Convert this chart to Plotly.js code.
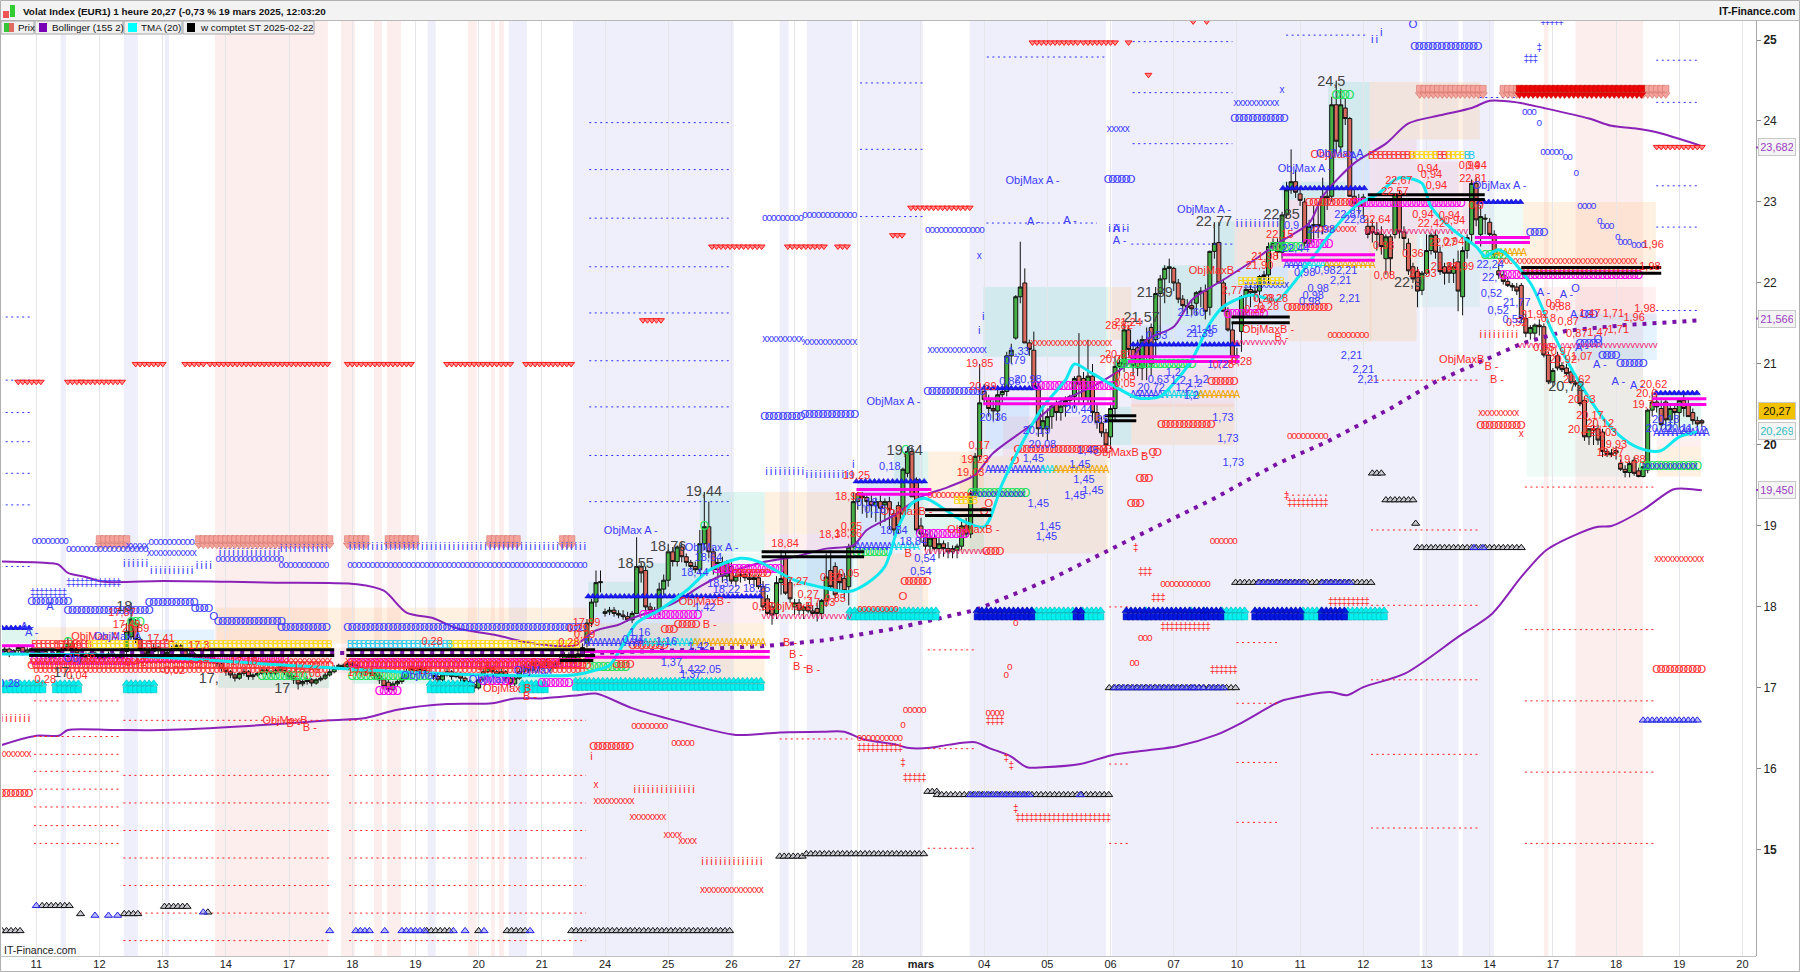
<!DOCTYPE html>
<html><head><meta charset="utf-8"><script src="https://cdn.plot.ly/plotly-3.0.1.min.js"></script>
<style>html,body{margin:0;padding:0;background:#fff}#c{width:1800px;height:972px}</style></head>
<body><div id="c"></div><script>
const firstHour=-8;
const opens=[17.42,17.45,17.48,17.42,17.46,17.5,17.44,17.47,
17.45,17.42,17.45,17.4,17.38,17.42,17.46,17.5,17.55,17.48,17.42,17.38,17.4,17.43,
17.4,17.36,17.38,17.42,17.4,17.37,17.45,17.63,17.8,17.6,17.48,17.42,17.45,17.5,
17.46,17.42,17.44,17.48,17.52,17.46,17.4,17.42,17.38,17.36,17.4,17.38,17.34,17.3,
17.24,17.2,17.16,17.12,17.18,17.2,17.14,17.16,17.18,17.22,17.2,17.18,17.22,17.26,
17.2,17.14,17.1,17.05,17.08,17.1,17.06,17.1,17.12,17.16,17.2,17.24,17.28,17.26,
17.3,17.28,17.25,17.2,17.22,17.18,17.15,17.1,17.07,16.98,17.05,17.08,17.12,17.2,
17.24,17.2,17.24,17.2,17.18,17.14,17.1,17.16,17.2,17.14,17.18,17.12,17.08,17.04,
17.0,17.1,17.2,17.25,17.2,17.16,17.2,17.12,17.05,17.12,17.2,17.26,17.22,17.3,
17.25,17.28,17.32,17.25,17.3,17.34,17.4,17.38,17.34,17.42,17.55,17.8,18.06,18.3,
17.92,17.94,17.96,17.92,17.9,17.88,17.84,17.92,18.5,18.45,18.0,17.96,17.95,18.22,
18.33,18.68,18.56,18.74,18.62,18.55,18.5,18.46,18.78,18.99,18.68,18.46,18.55,18.38,
18.5,18.32,18.38,18.4,18.36,18.34,18.36,18.25,18.1,18.0,17.92,18.3,18.62,18.3,
18.0,18.05,17.96,18.0,17.95,17.98,17.92,18.08,18.45,18.5,18.4,18.35,18.25,18.74,
19.3,19.38,19.35,19.3,19.25,19.3,19.26,19.3,19.15,19.25,19.15,19.65,19.92,19.57,
19.0,18.9,18.75,18.85,18.72,18.78,18.72,18.68,18.7,18.75,19.0,18.9,19.4,19.86,
20.66,20.56,20.45,20.42,20.62,20.66,21.1,21.32,21.83,22.0,21.26,21.17,20.72,20.2,
20.2,20.35,20.5,20.4,20.48,20.55,20.6,20.85,20.82,20.56,20.85,20.4,20.27,20.15,
20.1,20.45,20.97,21.0,21.42,21.18,21.2,20.95,21.3,21.45,21.3,21.87,22.05,22.18,
22.18,22.0,21.8,21.72,21.72,21.75,21.88,21.9,21.7,22.39,22.5,22.0,21.65,21.42,
21.09,21.4,21.83,21.92,21.88,21.9,22.08,22.1,22.45,22.5,22.38,22.84,23.15,23.25,
23.1,23.0,22.49,22.7,22.72,22.7,23.07,23.07,24.2,23.68,24.16,24.03,23.07,22.98,
23.06,22.7,22.7,22.62,22.6,22.3,22.57,22.6,23.09,22.63,22.49,22.2,22.14,21.91,
22.12,22.4,22.59,22.38,22.2,22.2,22.12,22.26,21.83,22.4,22.6,23.23,22.6,22.8,
22.75,22.6,22.15,22.1,22.02,21.97,21.95,21.97,21.56,21.38,21.38,21.48,21.46,21.11,
20.78,21.1,20.98,20.95,20.9,20.77,20.74,20.55,20.1,20.2,20.2,20.16,19.92,19.88,
19.9,19.77,19.7,19.66,19.81,19.68,19.61,19.69,20.43,20.53,20.45,20.53,20.31,20.45,
20.4,20.55,20.5,20.4,20.3,20.3];
const highs=[17.5,17.52,17.5,17.48,17.54,17.52,17.5,17.5,
17.48,17.48,17.47,17.42,17.44,17.5,17.54,17.62,17.58,17.5,17.44,17.44,17.46,17.45,
17.42,17.42,17.45,17.45,17.42,17.5,17.8,18.05,17.85,17.62,17.5,17.5,17.54,17.52,
17.48,17.48,17.52,17.56,17.54,17.48,17.46,17.44,17.4,17.44,17.42,17.4,17.36,17.32,
17.26,17.22,17.18,17.2,17.24,17.22,17.18,17.2,17.26,17.24,17.22,17.25,17.3,17.28,
17.22,17.16,17.12,17.1,17.13,17.12,17.12,17.15,17.2,17.24,17.28,17.3,17.3,17.34,
17.32,17.3,17.26,17.25,17.24,17.2,17.18,17.12,17.1,17.08,17.1,17.15,17.24,17.28,
17.26,17.28,17.26,17.22,17.2,17.16,17.2,17.24,17.22,17.2,17.2,17.14,17.1,17.06,
17.14,17.24,17.3,17.28,17.22,17.24,17.22,17.14,17.16,17.24,17.3,17.3,17.34,17.32,
17.32,17.36,17.34,17.34,17.38,17.44,17.44,17.42,17.46,17.55,17.85,18.1,18.45,18.45,
17.98,18.0,18.0,17.96,17.96,17.94,17.95,18.86,18.55,18.5,18.05,18.0,18.3,18.4,
18.78,18.74,18.76,18.8,18.66,18.58,18.56,18.95,19.42,19.3,18.72,18.6,18.62,18.58,
18.55,18.42,18.45,18.44,18.42,18.4,18.4,18.32,18.15,18.05,18.38,18.7,18.68,18.35,
18.1,18.1,18.02,18.05,18.02,18.05,18.1,18.66,18.7,18.55,18.45,18.42,18.78,19.42,
19.42,19.42,19.4,19.4,19.35,19.38,19.34,19.36,19.2,19.3,19.72,19.98,19.98,19.6,
19.1,18.95,18.95,18.9,18.85,18.82,18.8,18.76,18.78,19.05,19.1,19.44,19.9,21.0,
20.75,20.62,20.55,20.68,20.7,21.15,21.25,21.85,22.51,22.18,21.3,21.4,20.78,20.45,
20.45,20.5,20.55,20.55,20.6,20.62,20.85,21.38,20.9,21.3,21.0,20.5,20.35,20.2,
20.5,21.1,21.1,21.5,21.48,21.25,21.3,21.35,21.45,21.5,21.95,22.1,22.22,22.3,
22.2,22.05,21.85,21.8,21.78,21.9,21.95,21.98,22.4,22.75,22.75,22.05,21.7,21.5,
21.2,21.85,21.95,21.98,21.95,22.1,22.15,22.5,22.55,22.55,22.88,23.25,23.65,23.4,
23.2,23.05,22.78,22.95,23.0,23.3,23.2,24.3,24.5,24.4,24.28,24.05,23.15,23.1,
23.1,22.8,22.78,22.75,22.7,22.6,22.6,23.1,23.15,22.7,22.55,22.25,22.2,22.15,
22.6,22.62,22.65,22.45,22.25,22.25,22.3,22.4,22.45,22.6,23.28,23.3,22.95,22.85,
22.8,22.65,22.24,22.15,22.08,22.0,22.0,22.0,21.62,21.48,21.5,21.55,21.5,21.15,
20.95,21.15,21.02,21.0,20.92,20.8,20.78,20.6,20.2,20.3,20.25,20.2,19.95,19.95,
19.98,19.82,19.75,19.8,19.85,19.72,19.8,20.45,20.65,20.68,20.55,20.58,20.5,20.5,
20.55,20.65,20.58,20.45,20.35,20.32];
const lows=[17.38,17.42,17.38,17.4,17.42,17.4,17.42,17.42,
17.38,17.4,17.36,17.34,17.36,17.4,17.42,17.48,17.44,17.38,17.34,17.35,17.38,17.36,
17.32,17.33,17.36,17.36,17.33,17.35,17.42,17.6,17.55,17.44,17.38,17.4,17.42,17.42,
17.38,17.4,17.42,17.46,17.42,17.36,17.37,17.34,17.32,17.34,17.33,17.3,17.26,17.2,
17.15,17.12,17.08,17.1,17.15,17.1,17.1,17.14,17.16,17.16,17.14,17.16,17.2,17.16,
17.1,17.05,16.98,17.02,17.04,17.02,17.04,17.08,17.1,17.14,17.18,17.22,17.22,17.24,
17.24,17.2,17.16,17.16,17.14,17.1,17.05,16.98,16.95,16.96,17.02,17.05,17.1,17.18,
17.16,17.18,17.16,17.14,17.1,17.05,17.08,17.14,17.1,17.12,17.08,17.04,17.0,16.95,
16.98,17.08,17.18,17.16,17.12,17.14,17.08,17.0,17.02,17.1,17.16,17.18,17.2,17.2,
17.22,17.24,17.2,17.24,17.28,17.32,17.34,17.3,17.32,17.38,17.5,17.75,18.0,18.18,
17.88,17.9,17.88,17.86,17.84,17.82,17.8,17.92,18.3,17.95,17.9,17.9,17.9,18.15,
18.25,18.5,18.5,18.55,18.5,18.46,18.42,18.42,18.7,18.6,18.4,18.35,18.3,18.32,
18.28,18.25,18.3,18.32,18.28,18.25,18.22,17.95,17.9,17.78,17.85,18.15,18.15,18.05,
17.9,17.9,17.85,17.92,17.88,17.82,17.85,18.0,18.2,18.1,18.2,18.1,18.02,18.7,
19.2,19.15,19.1,19.1,19.05,19.0,19.05,18.95,18.88,18.9,19.1,19.6,19.36,18.9,
18.8,18.7,18.65,18.7,18.6,18.62,18.6,18.6,18.6,18.7,18.85,18.85,19.35,19.8,
20.5,20.35,20.3,20.3,20.52,20.6,21.0,21.3,21.75,21.26,21.1,20.72,20.1,20.1,
20.05,20.2,20.3,20.3,20.35,20.45,20.45,20.5,20.5,20.5,20.3,20.2,20.1,19.9,
19.95,20.3,20.85,20.9,21.1,20.85,20.85,20.8,20.8,20.85,21.1,21.35,21.75,22.0,
21.9,21.75,21.65,21.62,21.6,21.6,21.7,21.55,21.6,22.3,22.0,21.65,21.4,21.05,
21.0,21.15,21.6,21.7,21.78,21.75,22.0,22.0,22.4,22.3,22.3,22.8,23.1,23.05,
22.95,22.45,22.45,22.5,22.55,22.6,22.9,23.0,23.6,23.6,23.95,23.07,22.9,22.85,
22.8,22.55,22.5,22.4,22.35,22.1,22.1,22.55,22.55,22.4,22.1,22.0,21.7,21.85,
22.1,22.35,22.3,22.1,21.98,22.0,22.0,21.65,21.6,22.3,22.5,22.7,22.45,22.6,
22.55,22.3,22.05,21.98,21.95,21.9,21.85,21.5,21.33,21.3,21.3,21.35,21.08,20.75,
20.72,20.92,20.9,20.85,20.75,20.72,20.48,20.05,20.0,20.0,20.0,19.85,19.85,19.85,
19.82,19.68,19.6,19.6,19.62,19.6,19.6,19.65,20.35,20.4,20.2,20.2,20.2,20.25,
20.2,20.35,20.35,20.25,20.22,20.22];
const closes=[17.45,17.48,17.42,17.46,17.5,17.44,17.47,17.45,
17.42,17.45,17.4,17.38,17.42,17.46,17.5,17.55,17.48,17.42,17.38,17.4,17.43,17.4,
17.36,17.38,17.42,17.4,17.37,17.45,17.7,17.85,17.6,17.48,17.42,17.45,17.5,17.46,
17.42,17.44,17.48,17.52,17.46,17.4,17.42,17.38,17.36,17.4,17.38,17.34,17.3,17.24,
17.2,17.16,17.12,17.18,17.2,17.14,17.16,17.18,17.22,17.2,17.18,17.22,17.26,17.2,
17.14,17.1,17.05,17.08,17.1,17.06,17.1,17.12,17.16,17.2,17.24,17.28,17.26,17.3,
17.28,17.25,17.2,17.22,17.18,17.15,17.1,17.02,16.98,17.05,17.08,17.12,17.2,17.24,
17.2,17.24,17.2,17.18,17.14,17.1,17.16,17.2,17.14,17.18,17.12,17.08,17.04,17.0,
17.1,17.2,17.25,17.2,17.16,17.2,17.12,17.05,17.12,17.2,17.26,17.22,17.3,17.25,
17.28,17.32,17.25,17.3,17.34,17.4,17.38,17.34,17.42,17.5,17.8,18.06,18.3,18.31,
17.94,17.96,17.92,17.9,17.88,17.84,17.92,18.5,18.42,18.0,17.96,17.94,18.22,18.33,
18.68,18.56,18.74,18.62,18.55,18.5,18.46,18.78,18.99,18.68,18.46,18.55,18.38,18.56,
18.32,18.38,18.4,18.36,18.34,18.36,18.25,18.0,17.92,17.9,18.3,18.35,18.17,18.1,
18.05,17.96,18.0,17.95,17.92,17.92,18.08,18.37,18.25,18.15,18.3,18.2,18.74,19.3,
19.4,19.35,19.3,19.25,19.3,19.22,19.3,19.2,18.95,19.0,19.7,19.92,19.36,18.95,
18.9,18.75,18.85,18.72,18.78,18.72,18.68,18.72,18.75,19.0,18.9,19.4,19.86,20.52,
20.56,20.45,20.42,20.62,20.66,21.1,21.17,21.83,21.95,21.26,21.18,20.72,20.2,20.3,
20.35,20.48,20.4,20.48,20.55,20.6,20.82,20.75,20.56,20.85,20.4,20.28,20.15,20.0,
20.45,20.97,21.02,21.42,21.18,20.98,20.95,21.3,21.08,21.0,21.87,22.05,22.18,22.2,
22.0,21.8,21.72,21.7,21.68,21.88,21.9,21.65,22.39,22.49,22.0,21.65,21.42,21.09,
21.1,21.83,21.92,21.88,21.9,22.08,22.1,22.45,22.5,22.38,22.84,23.15,23.25,23.12,
23.02,22.49,22.7,22.72,22.7,23.07,23.05,24.2,23.75,24.2,24.03,23.07,22.98,22.95,
22.95,22.6,22.62,22.6,22.45,22.57,22.3,23.09,22.63,22.55,22.15,22.05,21.9,22.12,
22.4,22.59,22.38,22.14,22.12,22.12,22.2,21.9,22.4,22.56,23.23,22.78,22.82,22.79,
22.6,22.35,22.1,22.02,21.97,21.95,21.9,21.56,21.38,21.45,21.48,21.46,21.11,20.78,
20.92,20.95,20.93,20.88,20.77,20.75,20.51,20.1,20.2,20.18,20.06,19.92,19.88,19.9,
19.93,19.7,19.66,19.77,19.65,19.61,19.73,20.43,20.53,20.47,20.25,20.31,20.45,20.4,
20.55,20.45,20.35,20.3,20.26,20.27];

const dayTicks=[0,14,28,42,56,70,84,98,112,126,140,154,168,182,196,210,224,238,252,266,280,294,308,322,336,350,364,378];
const dayLabels=['11','12','13','14','17','18','19','20','21','24','25','26','27','28','<b>mars</b>','04','05','06','07','10','11','12','13','14','17','18','19','20'];
const priceTicks=[15,16,17,18,19,20,21,22,23,24,25];
const priceLabels=['<b>15</b>','16','17','18','19','<b>20</b>','21','22','23','24','<b>25</b>'];

const upperH=[-8,3,5,7,11,15,28,43,53,71,77,82,88,93,102,108,113,119,124,129,132,141,147,151,160,168,175,181,184,190,196,202,208,212,220,226,234,242,246,252,256,263,270,275,282,285,292,299,304,311,318,322,328,334,344,349,354,359,369];
const upperV=[18.56,18.54,18.52,18.42,18.37,18.31,18.32,18.31,18.3,18.28,18.2,17.93,17.86,17.74,17.65,17.57,17.53,17.52,17.71,17.78,17.86,18.04,18.25,18.37,18.54,18.62,18.72,18.76,18.95,19.13,19.36,19.48,19.63,19.9,20.23,20.51,20.72,21.01,21.3,21.46,21.79,22.04,22.29,22.49,22.74,23.07,23.48,23.72,23.97,24.07,24.16,24.25,24.23,24.16,24.03,23.94,23.91,23.86,23.69];
const lowerH=[-8,0,5,7,17,28,47,65,73,80,91,101,106,112,120,124,132,142,155,164.7,174.4,179,183,190.5,193,198,202.3,208,211,215.7,219.5,223.2,231.3,238.3,246.3,252.8,261.4,266.7,274.3,276.4,286.6,290.4,294,303.3,315,322.6,329,334.5,341,346,349,356,362.6,365.5,369];
const lowerV=[16.29,16.41,16.41,16.48,16.48,16.48,16.53,16.6,16.63,16.73,16.8,16.81,16.87,16.87,16.91,16.93,16.75,16.59,16.42,16.45,16.46,16.46,16.37,16.3,16.26,16.26,16.3,16.33,16.26,16.16,16.02,16.02,16.06,16.17,16.23,16.28,16.42,16.56,16.8,16.85,16.95,16.91,17.01,17.18,17.63,17.92,18.37,18.7,18.89,18.99,19.0,19.2,19.45,19.46,19.44];
const midH=[-8,60,123,145,162,175,190,208,225,243,261,275,286,300,310,329,339,352,369];
const midV=[17.43,17.43,17.43,17.47,17.52,17.59,17.73,17.96,18.35,18.85,19.34,19.77,20.04,20.45,20.78,21.25,21.41,21.48,21.54];
const tmaH=[-8,20,50,80,110,119,124,127,133,138,144,149,156,160,168,175,180,184,188,191,194,197,205,210,214,218,223,228,230,234,239,244,249,252,256,260,263,269,275,278,283,288,293,297,302,307,309,314,319,321,324,331,336,342,348,353,357,360,364,368];
const tmaV=[17.42,17.4,17.3,17.2,17.15,17.16,17.22,17.28,17.8,17.96,18.2,18.45,18.6,18.56,18.33,18.23,18.19,18.29,18.5,18.99,19.28,19.34,19.07,18.99,19.52,19.98,20.47,20.8,21.0,20.88,20.72,20.58,20.6,20.76,21.05,21.5,21.71,21.85,21.79,21.96,22.33,22.7,22.98,23.09,23.3,23.23,22.94,22.65,22.45,22.33,22.41,22.0,21.38,20.76,20.27,20.02,19.93,19.93,20.1,20.16];

const blueBands=[[5.4,6.6],[19.4,22.5],[28.5,29.4],[86.7,88.5],[104.7,108.7],[118.9,154.5],[164.7,166.7],[170.7,180.7],[182.5,190.9],[190.9,196.4],[206.8,237],[238.3,306.5],[307.1,315.1],[316,323]];
const pinkBands=[[39.6,64.6],[67.5,70.6],[74.8,76.6],[77.7,80.8],[95.6,97.6],[100.7,101.6],[102.5,103.6],[334,335],[341,356]];
const zones=[
['o',-0.4,19,17.55,17.75],['t',-8,-0.4,17.55,17.72],['b',20,39.5,17.5,17.72],['o',39.9,122,17.55,17.99],['t',40.3,64.9,17.0,17.18],['t',70,122,17.05,17.18],['p',40,122,17.18,17.5],
['t',122.3,133,17.92,18.31],['t',133,147,17.9,18.54],['t',147,161.4,18.68,19.42],['l',147,161.4,18.33,18.66],['p',147,161.4,17.8,18.33],['b',123.4,147,17.38,17.92],['o',119,161.4,17.05,17.8],
['o',161.4,182,18.9,19.42],['p',161.4,182,18.7,18.9],['l',161.4,182,17.92,18.66],['b',165,181,18.25,18.6],
['o',182,197.6,17.92,18.66],['b',182,190,18.75,19.55],['t',190,197.6,18.85,19.92],['o',197.6,210,19.36,19.92],['p',197.6,210,19.15,19.36],['t',197.6,210,18.68,19.15],
['t',209.8,237.5,21.09,21.95],['b',209.8,220,19.95,20.6],['p',214.2,237.5,19.86,20.35],['o',204.6,237.5,18.66,19.86],['o',237.5,242.6,21.3,21.95],['t',237.9,242.6,20.0,20.47],
['t',249.3,265.5,21.48,22.22],['b',242.6,265.5,21.09,21.48],['p',242.6,265.5,20.47,20.99],['o',242.6,265.5,20.0,20.51],['t',260.7,265.5,22.22,22.76],
['o',265.5,277.3,22.2,22.76],['b',265.5,277.3,21.6,22.2],['p',277.3,295.8,22.28,23.03],['o',277.3,295.8,21.28,22.16],['t',276,290,23.03,23.25],
['t',286.2,295.4,23.52,24.48],['b',291,295.4,22.9,23.52],['o',295.4,319.8,23.77,24.48],['p',295.4,305.8,22.6,23.77],['l',305.8,319.8,21.7,22.65],['o',295.4,305.8,21.28,22.6],['p',305.8,319.8,22.65,23.5],
['l',319.8,329.4,22.12,23.0],['o',329.4,358.8,22.1,23.0],['p',329.4,358.8,21.54,21.95],['l',330.2,356,19.61,21.21],['b',340.5,359,21.05,21.62],
['t',359,368.8,20.2,20.66],['p',359,368.8,19.98,20.2],['o',359,368.8,19.61,19.98]];

const blueDots=[[-8,-1,21.58],[-8,-1,20.8],[-8,-1,20.4],[-8,-1,20.04],[-8,-1,19.65],[-8,-1,19.26],[-8,-1,18.5],
[122.5,154,23.98],[122.5,154,23.4],[122.5,154,22.8],[122.5,154,22.2],[122.5,154,21.63],[122.5,154,21.04],[122.5,154,20.47],[122.5,154,19.87],[122.5,154,19.3],
[182.5,197,24.47],[182.5,197,23.65],[182.5,197,22.82],[210.6,237,24.79],[242.9,265,24.98],[242.9,265,24.35],[242.9,265,23.72],[210.5,235,22.74],[242.6,265,22.48],
[276.9,295,25.06],[319.8,328.3,24.29],[358.9,368.4,24.75],[358.9,368.4,24.23],[358.9,368.4,23.2],[358.9,368.4,22.69],[358.9,368.4,21.66]];
const redDots=[[-0.5,18.7,16.84],[-0.5,18.7,16.4],[-0.5,18.7,16.18],[-0.5,18.7,15.97],[-0.5,18.7,15.75],[-0.5,18.7,15.53],[-0.5,18.7,15.3],[-0.5,18.7,15.08],
[19.3,65,16.6],[19.3,65,15.92],[19.3,65,15.58],[19.3,65,15.24],[19.3,65,14.9],[19.3,65,14.56],[19.3,65,14.22],[19.3,65,13.88],
[69.3,121.8,16.6],[69.3,121.8,15.92],[69.3,121.8,15.58],[69.3,121.8,15.24],[69.3,121.8,14.9],[69.3,121.8,14.56],[69.3,121.8,14.22],[69.3,121.8,13.88],
[164.7,180.8,16.37],[197.5,208.2,17.47],[197.5,208.2,16.25],[197.5,208.2,15.02],[237.7,242,18.0],[237.7,242,16.06],[237.7,242,15.08],
[265.9,275.3,17.56],[265.9,275.3,16.81],[265.9,275.3,16.08],[265.9,275.3,15.34],[295.7,319.4,20.8],[295.7,319.4,18.95],[295.7,319.4,18.02],[295.7,319.4,17.1],[295.7,319.4,16.18],[295.7,319.4,15.27],
[329.8,358.5,19.48],[329.8,358.5,17.72],[329.8,358.5,16.84],[329.8,358.5,15.96],[329.8,358.5,15.08],[277,286,19.38]];

const blueGlyphs=[['o',-0.4,7.2,18.81],['o',7.2,25,18.71],['o',25.5,35,18.8],['x',20.4,25,18.75],['x',25,35.2,18.66],['i',19.5,24.6,18.53],['i',25.5,35,18.44],['i',35.6,38.6,18.5],['i',40.7,53.9,18.66],['o',40.3,54.3,18.58],['o',54.3,65,18.51],['i',54.3,65,18.71],['i',69.5,121.7,18.74],['o',69.5,121.7,18.51],['‡',-0.8,6.8,18.17],['‡',7.2,18.7,18.29],
['O',-1,7,18.06],['O',7,25,17.95],['O',25,35,18.05],['O',35.2,39,17.97],['O',39.3,39.3,17.87],['O',40.3,54.3,17.81],['O',54.3,65,17.74],['O',69,121.7,17.74],
['O',161.4,170.3,20.34],['O',170.3,182,20.37],['i',161.8,170.3,19.67],['i',170.7,181,19.63],['o',161.4,170.3,22.8],['o',170.3,182,22.83],['x',161.4,170.3,21.3],['x',170.3,182,21.27],['O',197.5,210,20.65],['o',197.5,210,22.65],['x',198,210,21.17],['x',208.9,208.9,22.33],['i',209.8,209.8,21.58],['i',208.9,208.9,21.41],['i',181,181,19.75],
['x',237.7,242.5,23.89],['O',237.5,242.5,23.27],['i',237.8,242.3,22.67],['x',265.8,275.7,24.21],['O',265.5,276.5,24.02],['x',276,276,24.38],['i',266,275.5,22.73],['i',296,297,25.0],['i',298,298,25.08],
['O',305.4,319.8,24.91],['O',305,305,25.19],['o',329.8,332.7,24.1],['o',333,333,23.97],['o',333.8,338.6,23.61],['o',338.8,340.5,23.55],['o',341.2,341.2,23.35],['o',342,345.8,22.94],['o',346.4,346.4,22.76],['o',347,349.7,22.7],['o',350.4,350.4,22.56],['o',351,353.8,22.5],['o',354,356.7,22.46],['‡',330.1,332.3,24.76],['‡',333,333,24.9],['‡',333.8,338.6,25.23],['O',331,334,22.62],['O',342,346,21.25],['O',347,350,21.1],['O',351,356,21.0],['O',346,346,21.3],['O',343,345,21.6]];
const redGlyphs=[['i',-7.6,-1.2,16.61],['x',-7.6,-1,16.18],['O',-7.6,-1,15.69],['O',123.5,132,16.27],['i',123,123,16.15],['x',124,124,15.8],['x',124,132,15.6],['i',132.6,146.4,15.74],['x',132,139.5,15.4],['x',139.5,142.5,15.18],['x',142.8,146.6,15.1],['i',147.6,161,14.85],['x',147.6,161,14.5],['o',132.4,139.5,16.52],['o',141.3,145.9,16.31],
['o',182.4,191.6,16.37],['‡',182.4,191.6,16.25],['o',192.6,197.5,16.72],['o',192,192,16.54],['‡',192,192,16.07],['‡',192.6,197.5,15.88],['o',210.9,214.3,16.68],['‡',210.9,214.3,16.58],['o',215.7,215.7,17.25],['o',214.9,214.9,17.15],['o',217,217,17.79],['‡',214.9,214.9,16.13],['‡',216,216,16.03],['‡',217,217,15.5],['‡',217.5,237.7,15.39],['O',242.6,244.7,19.27],['‡',243.6,243.6,18.72],['‡',244.7,247.4,18.42],['‡',247.6,249.6,18.1],['‡',249.6,260.3,17.75],['o',244.7,247.6,17.61],['o',242.8,244.7,17.3],['o',249.6,260.5,18.28],['o',260.6,265.7,18.81],['‡',260.6,265.7,17.21],['‡',277,277,19.36],['‡',277.7,286.6,19.28],['‡',286.8,295.5,18.05],['x',320,328.6,20.39],['O',320,329.3,20.23],['i',320,328,21.35],['x',329,329,20.13],['x',359,369,18.58],['O',359,369,17.22],
['O',132.2,139.3,17.51],['O',139.3,142.2,17.71],['O',142.2,147,17.77],['O',128.6,132.2,17.28],['O',192.4,197.6,18.31],['O',192,192,18.12],['o',182.5,191.3,17.97],['O',210.5,214.2,18.68],['o',198,207.6,19.38],['O',217.5,237.8,19.94],['x',220.8,238.6,21.25],['O',260.4,265.9,20.78],['O',249.3,260.4,20.25],['O',244.5,247.4,19.58],['O',247.4,249.3,19.9],['O',277.3,286.6,21.69],['o',286.7,295.5,21.35],['o',277.7,286.6,20.11],['O',216.8,216.8,19.8],['O',211,211,19.27],['O',210,210,19.17],['x',324.2,354.9,22.26],['o',329,355.6,22.14],['O',282,292,22.98],
['O',-1,65,17.27],['x',-1,65,17.33],['O',69,122,17.27],['x',69,122,17.33],['o',0,64,17.22],['o',70,121,17.22],['O',155,162,18.4],['x',283,292,22.66]];
const magentaGlyphs=[['O',-0.4,21.7,17.32],['O',23,55.6,17.35],['O',70,120,17.3],['O',150.7,164.7,18.46],['O',195.8,206,18.89],['O',221.6,238.9,20.71],['O',264,272,21.6],['O',291.7,316,22.97],['O',281.4,286.6,22.47],['O',134.5,147,17.89],['O',325,355.6,22.08],['O',76,80,16.95],['O',99,105,17.07],['O',112,118,17.05]];
const greenGlyphs=[['O',181.7,189.5,18.66],['O',207.2,220,19.39],['O',240,256.3,20.99],['O',274,280.7,22.43],['O',356,368.6,19.73],['O',122.6,131,17.25],['O',70,87,17.14],['O',50,60,17.14],['O',321,325,22.33],['O',288,291,24.31],['O',148,148,18.99],['O',192.6,192.6,19.92],['O',7,7,17.55],['O',21,23,17.8]];
const blueXGlyphs=[['x',207.5,219,19.39],['x',356.5,368,19.73],['x',268,277,21.97]];
const crimsonGlyphs=[['v',161.2,181,17.88],['v',197.2,210.5,18.68],['v',265.5,276.8,21.26],['v',294.7,316.9,22.63],['v',328.7,359,21.23]];
const aBlue=[['A',121.9,135,17.55],['A',182,190,18.73],['A',210.9,223,19.68],['A',243,250,20.61],['A',277,281,22.21],['A',359,370,20.14]];
const aCyan=[['A',135,146,17.55],['A',190,195,18.73],['A',223,226,19.68],['A',250,258,20.61],['A',281,286,22.21]];
const aYellow=[['A',146,161.8,17.55],['A',226,237.8,19.68],['A',258,266,20.61],['A',286,296.2,22.21],['A',323.5,330,22.36]];
const bRed=[['B',-0.4,12,17.52],['B',22,30,17.52],['B',295.8,305,23.56],['B',310,313,23.56]];
const bYellow=[['B',12,22,17.52],['B',30,65,17.52],['B',92,120,17.52],['B',267,276.6,22.0],['B',305,310,23.56],['B',313,317,23.56],['B',204,208,19.3]];
const bCyan=[['B',69.5,92,17.52],['B',317,318,23.56]];

const cyanHouse=[[-7.6,1.7,17.0],[4.3,9.8,17.0],[20,26.7,17.0],[87.3,96.7,17.0],[107.7,113.6,17.0],[119.5,161,17.03],[180.3,200.1,17.9],[220.6,230.4,17.9],[231.8,235.8,17.9],[245.8,246.5,17.9],[255.8,256.6,17.9],[258.7,259.4,17.9],[262.7,268.4,17.9],[280.7,284.8,17.9],[290.6,299,17.9]];
const blueHouse=[[208.5,220.6,17.9],[230.4,231.8,17.9],[241.5,245.8,17.9],[246.5,255.8,17.9],[256.6,258.7,17.9],[259.4,262.7,17.9],[270,280.7,17.9],[284.8,290.6,17.9]];
const salmonHouse=[[14,20.4,18.82],[36,65.7,18.82],[69,73.8,18.82],[78,84.8,18.82],[100.5,107,18.82],[116.6,119.5,18.82],[306.5,321,24.38],[325,328.6,24.38],[356,361,24.38]];
const redHouse=[[328.6,356,24.38]];
const redDown=[[-4,1.6,20.78],[7,10,20.78],[10,19.5,20.78],[22,28.6,21.0],[33,37.3,21.0],[38.5,65.2,21.0],[69,83,21.0],[91,98,21.0],[99,105,21.0],[108.5,118.6,21.0],[134.4,139,21.54],[149.7,161.6,22.45],[166.5,174.6,22.45],[177.6,179.7,22.45],[189.8,192,22.59],[193.8,206.9,22.93],[220.7,231,24.97],[232,239,24.97],[242,242,24.97],[246.4,246.4,24.57],[256.3,256.3,25.23],[259.3,259.3,25.23],[359,369,23.68]];
const blackUp=[[1.3,7.7,14.31],[9.8,9.8,14.21],[19.5,22.5,14.21],[28.4,33.5,14.3],[38,38,14.23],[-7.6,-3.3,14.0],[86.5,91.6,14.0],[98,98,14.0],[104.3,108.5,14.0],[118.6,154,14.0],[164.7,170.6,14.92],[170.6,197.5,14.95],[197.5,199.6,15.72],[199.6,237.7,15.68],[237.7,266.2,17.0],[265.7,296,18.3],[296,298.4,19.65],[299,305.3,19.32],[305.6,305.6,19.03],[306,329,18.73]];
const blueUp=[[0,0,14.31],[13,13,14.19],[16,16,14.19],[18,18,14.19],[37,37,14.23],[65,65,14.0],[70.8,74.6,14.0],[77.2,77.2,14.0],[81,86,14.0],[92.4,92.4,14.0],[95,95,14.0],[99.2,99.2,14.0],[109.4,109.4,14.0],[356,368,16.6],[207,220.6,15.68],[231.3,231.3,15.68],[239,242,17.0],[243,246,17.0],[247,256,17.0],[256.5,259,17.0],[260,263,17.0],[271,281,18.3],[285,291,18.3],[318.5,318.5,18.73],[320.5,320.5,18.73]];
const blueHat=[[-7.6,-0.8,17.74],[122.3,161,18.13],[181.7,197.6,19.55],[210,222,20.7],[243,266,21.24],[276.2,295,23.17],[319.8,329.7,23.0],[358.9,368.8,20.64]];
const magentaLines=[[-7.6,-0.4,17.52],[121.5,162.5,17.45],[121.5,162.5,17.38],[181.7,198.3,19.45],[181.7,198.3,19.39],[209.8,239,20.57],[209.8,239,20.51],[241.9,266.6,21.09],[241.9,266.6,21.03],[275.9,296.6,22.35],[275.9,296.6,22.28],[318.7,330.9,22.56],[318.7,330.9,22.5],[358,370,20.57],[358,370,20.5]];
const blackLines=[[-1.6,66,17.47],[-1.6,66,17.4],[68.7,123.8,17.47],[68.7,123.8,17.4],[116,123.4,17.34],[160.7,183.4,18.68],[160.7,183.4,18.62],[196.9,211.6,19.2],[196.9,211.6,19.13],[236.7,243.7,20.36],[236.7,243.7,20.3],[264.8,277.7,21.58],[264.8,277.7,21.51],[295,320.9,23.09],[295,320.9,23.03],[329,360,22.19],[329,360,22.12]];

const blackLabels=[[147.9,19.41,'19,44'],[132.8,18.53,'18,55'],[140,18.74,'18,76'],[192.4,19.92,'19,64'],[244.9,21.56,'21,57'],[247.8,21.87,'21,89'],[260.9,22.75,'22,77'],[275.9,22.83,'22,85'],[286.9,24.48,'24,5'],[303.9,21.99,'22,9'],[339,20.71,'20,72'],[19.5,18.0,'18'],[38.2,17.1,'17,'],[54.5,16.98,'17'],[6,17.18,'17,']];
const redLabels=[[121.9,17.8,'17,99'],[121.5,17.65,'0,29'],[165.9,18.78,'18,84'],[175.8,18.89,'18,3'],[179.9,18.9,'18,36'],[180.6,18.98,'0,25'],[180,19.36,'18,95'],[181.7,19.61,'19,25'],[148.1,18.06,'ObjMaxB -'],[149.2,17.78,'B -'],[167,17.55,'B -'],[168.3,17.4,'B -'],[169.2,17.26,'B -'],[172.1,17.22,'B -'],[167,18.0,'ObjMaxB'],[207.6,18.95,'ObjMaxB -'],[192.8,19.17,'ObjMaxB -'],[193.9,18.65,'B -'],[208.9,19.99,'0,17'],[208,19.81,'19,23'],[207,19.65,'19,03'],[168,18.3,'17,27'],[171,18.15,'0,27'],[174,18.05,'17,83'],[177,18.1,'0,85'],[180,18.4,'0,05'],[176,18.35,'0,82'],[161,18.0,'0,27'],
[209,21.0,'19,85'],[209.7,20.71,'20,89'],[241.9,21.5,'21,24'],[239.9,21.46,'28,82'],[239.8,21.11,'20,81'],[238,21.05,'20,7'],[241.2,20.84,'0,05'],[241.2,20.75,'0,05'],[261.1,22.14,'ObjMaxB -'],[275.5,22.59,'22,15'],[272.2,22.32,'21,98'],[271,22.21,'21,90'],[272.9,21.42,'ObjMaxB -'],[275.9,21.32,'B -'],[246.3,19.85,'B -'],[240,19.9,'ObjMaxB -'],[265,21.9,'2,77'],[275,21.8,'0,28'],[273,21.7,'0,28'],[272,21.8,'0,28'],[270,21.66,'0,28'],[267,21.02,'0,28'],[263,20.99,'0,28'],
[286.5,23.58,'ObjMax'],[308.3,23.4,'0,94'],[309.1,23.33,'0,94'],[310.2,23.19,'0,94'],[307.2,22.84,'0,94'],[313.1,22.83,'0,94'],[314.2,22.76,'0,94'],[301.9,23.25,'22,67'],[301,23.12,'22,57'],[297,22.78,'22,64'],[309.1,22.73,'22,42'],[319,23.44,'0,94'],[317.5,23.44,'0,94'],[318.3,23.28,'22,81'],[298.7,22.08,'0,08'],[307.2,22.11,'21,93'],[298.5,22.45,'0,98'],[305,22.35,'0,36'],[311.6,22.49,'22,27'],[314,22.5,'0,94'],[315.5,22.2,'21,99'],[312,22.2,'21,88'],[319,22.95,'0,9'],
[357.5,22.2,'1,98'],[358.2,22.46,'1,96'],[356.4,21.67,'1,98'],[354,21.57,'1,96'],[336.1,21.74,'0,8'],[337.6,21.7,'0,88'],[344.2,21.62,'1,47'],[349.4,21.62,'1,71'],[350.5,21.42,'1,71'],[346,21.38,'1,47'],[339.4,21.51,'0,87'],[341.3,21.37,'0,87'],[335,21.55,'0,8'],[342.4,21.08,'1,07'],[337.2,21.15,'20,97'],[338.3,21.05,'20,92'],[334,21.2,'0,85'],[341.3,20.8,'20,62'],[342.4,20.55,'20,63'],[344.2,20.35,'20,17'],[346.5,20.25,'20,12'],[347.2,20.14,'20,03'],[342.4,20.18,'20,12'],[349.4,20.0,'19,93'],[348.7,19.9,'19,87'],[353.5,19.81,'19,88'],[356,20.49,'19,7'],[358.3,20.74,'20,62'],[356.8,20.63,'20,6'],[315.8,21.04,'ObjMaxB'],[322.4,20.96,'B -'],[323.6,20.8,'B -'],[332,21.6,'21,92'],[328,21.5,'0,52'],
[7,17.52,'17,49'],[27.6,17.6,'17,41'],[36,17.52,'17,3'],[19,17.92,'17,87'],[22,17.72,'20,89'],[20,17.78,'17,49'],[30.2,17.2,'-0,02'],[9,17.15,'0,04'],[87.7,17.57,'0,28'],[118,17.55,'0,28'],[120,17.72,'0,29'],[55.1,16.59,'ObjMaxB'],[57,16.55,'B -'],[60.6,16.5,'B -'],[104.3,16.98,'ObjMax B'],[109.4,16.89,'B -'],[2,17.1,'0,28'],[13,17.63,'ObjMax A'],
[10,17.35,'17,38'],[22,17.3,'0,42'],[36,17.28,'0,27'],[46,17.32,'17,18'],[60,17.26,'17,22'],[72,17.18,'17,31'],[85,17.2,'0,19'],[100,17.25,'17,2'],[112,17.3,'0,35'],[60,17.17,'17,08']];
const blueLabels=[[131.7,18.93,'ObjMax A -'],[189.9,20.53,'ObjMax A -'],[149.6,18.73,'ObjMax A -'],[220.7,23.25,'ObjMax A -'],[258.7,22.9,'ObjMax A -'],[281,23.4,'ObjMax A -'],[324.2,23.19,'ObjMax A -'],[288.8,23.59,'ObjMax A'],[292.5,23.55,'A -'],[229,22.76,'A -'],[240,22.66,'A -'],[240,22.52,'A -'],[221,22.75,'A -'],
[133.7,17.68,'1,16'],[132.2,17.59,'0,94'],[139.6,17.57,'1,16'],[148.1,17.98,'1,42'],[146.7,17.5,'1,42'],[151,18.28,'18,3'],[152.9,18.2,'18,22'],[159.6,18.22,'18,25'],[145.9,18.41,'18,44'],[148.9,18.6,'18,64'],[140.7,17.3,'1,37'],[147,17.22,'1,422,05'],[145,17.16,'1,37'],
[196.9,18.59,'0,54'],[196,18.43,'0,54'],[189.1,19.72,'0,18'],[185.8,19.2,'0,18'],[184,19.28,'0,18'],[190,18.93,'18,84'],[194.3,18.8,'18,84'],
[220.9,19.82,'1,45'],[222,19.27,'1,45'],[224.6,18.99,'1,45'],[223.8,18.86,'1,45'],[231.2,19.75,'1,45'],[232.1,19.56,'1,45'],[234.1,19.43,'1,45'],[230.1,19.37,'1,45'],[233,19.92,'1,45'],
[251.9,20.89,'1,2'],[253,20.79,'1,2'],[254.1,20.7,'1,2'],[256.7,20.75,'1,2'],[258.1,20.8,'1,2'],[255.9,20.6,'1,2'],[262.9,20.33,'1,73'],[264,20.07,'1,73'],[265.2,19.77,'1,73'],
[291.4,21.09,'2,21'],[294,20.92,'2,21'],[295.1,20.8,'2,21'],[291,21.8,'2,21'],[289,22.02,'2,21'],[290.3,22.14,'2,21'],[281,22.12,'0,98'],[284,21.92,'0,98'],[282.9,21.83,'0,98'],[282.1,21.76,'0,98'],[285.5,22.14,'0,98'],
[221.6,20.17,'20,19'],[222.9,20.0,'20,08'],[219.7,20.8,'20,98'],[215.7,20.78,'0,86'],[217.7,21.15,'1,33'],[216.8,21.03,'0,79'],[234.5,20.31,'20,35'],[231,20.43,'20,44'],[212,20.33,'20,36'],[257.8,21.37,'21,39'],[258.7,21.42,'21,45'],[255.9,21.63,'21,60'],[261.8,20.99,'1,72'],[248.2,21.34,'0,53'],[248.6,20.8,'0,63'],[247,20.7,'20,72'],[284.7,22.65,'22,98'],[292.1,22.78,'22,8'],[290.6,22.84,'22,87'],[278.1,22.7,'0,9'],[279,22.42,'22,44'],
[322.1,22.22,'22,24'],[322,22.06,'22,'],[328,21.75,'21,77'],[322.4,21.86,'0,52'],[323.9,21.65,'0,52'],[327.2,21.54,'0,52'],[333.9,21.87,'A -'],[339,21.85,'A -'],[341,21.92,'O'],[341.3,21.6,'A -'],[342.4,21.2,'A -'],[346.4,20.99,'A -'],[350.5,20.78,'A -'],[354.6,20.72,'A -'],[359.6,20.19,'20,22'],[364,20.19,'20,11'],[361,20.3,'20,18'],[367,20.17,'20,12'],
[3,18.0,'A'],[-2,17.75,'A -'],[-1,17.68,'A -'],[18,17.63,'ObjMax A'],[-6,17.05,'0,28'],[85,17.15,'ObjMax'],[100,17.1,'ObjMax'],[110,17.2,'ObjMax'],[8,17.35,'Obj']];

const W=1800,H=972,ML=2,MR=44,MT=20,MB=16;
const fx=p=>(p-ML)/(W-ML-MR), fy=p=>1-(p-MT)/(H-MT-MB);
const RED='#ff2a2a',BLUE='#3b3bff',MAG='#ff00e6';
const hours=opens.map((_,i)=>firstHour+i);

function expand(rows){const o={x:[],y:[],t:[]};rows.forEach(r=>{const a=r.length===4?r[1]:r[0],b=r.length===4?r[2]:r[1],v=r.length===4?r[3]:r[2],g=r.length===4?r[0]:'';for(let h=a;h<=b+0.001;h+=1){o.x.push(h);o.y.push(v);o.t.push(g);}});return o;}
function glyphs(rows,color,size){const e=expand(rows);return {type:'scatter',mode:'text',x:e.x,y:e.y,text:e.t,textfont:{family:'Liberation Sans',size:size,color:color},textposition:'middle center',hoverinfo:'skip',showlegend:false};}
function segs(rows,color,width,dash){const x=[],y=[];rows.forEach(r=>{x.push(r[0],r[1],null);y.push(r[2],r[2],null);});return {type:'scatter',mode:'lines',x,y,line:{color,width,dash:dash||'solid'},hoverinfo:'skip',showlegend:false,connectgaps:false};}
function marks(rows,sym,size,fill,lineC,lw,dv){const e=expand(rows);return {type:'scatter',mode:'markers',x:e.x,y:e.y.map(v=>v+(dv||0)),marker:{symbol:sym,size,color:fill,line:{color:lineC,width:lw}},hoverinfo:'skip',showlegend:false};}
function house(rows,fill,lineC,up){return [marks(rows,'square',6.5,fill,lineC,0.5,up?-0.02:0.02),marks(rows,up?'triangle-up':'triangle-down',7.5,fill,lineC,0.6,up?0.055:-0.055)];}
function labels(rows,color,size,fam){return {type:'scatter',mode:'text',x:rows.map(r=>r[0]),y:rows.map(r=>r[1]),text:rows.map(r=>r[2]),textfont:{family:fam||'Liberation Sans',size,color},textposition:'middle center',hoverinfo:'skip',showlegend:false};}
function curve(x,y,color,width,dash,spline){return {type:'scatter',mode:'lines',x,y,line:{color,width,dash:dash||'solid',shape:spline?'spline':'linear',smoothing:0.8},hoverinfo:'skip',showlegend:false};}

const traces=[
 {type:'candlestick',x:hours,open:opens,high:highs,low:lows,close:closes,whiskerwidth:0,
  increasing:{line:{color:'#111',width:1},fillcolor:'#45b045'},decreasing:{line:{color:'#111',width:1},fillcolor:'#d96a5e'},hoverinfo:'skip',showlegend:false},
 curve(upperH,upperV,'#8a22b8',2,null,true),curve(lowerH,lowerV,'#8a22b8',2,null,true),curve(midH,midV,'#7a12a8',4,'4px,6px'),
 segs(blueDots,'#3030ff',1,'2px,3.5px'),segs(redDots,'#ff2020',1,'2px,3.5px'),
 ...house(cyanHouse,'#00f0f0','#00b4b4',true),...house(blueHouse,'#0018e0','#0000a0',true),
 ...house(salmonHouse,'#f4a49c','#d06a60',false),...house(redHouse,'#ee0606','#c00000',false),
 marks(redDown,'triangle-down',6,'#ff8a8a','#ff1a1a',1),marks(blackUp,'triangle-up',7,'#c8c8d0','#111',1),marks(blueUp,'triangle-up',7,'rgba(120,120,255,.5)','#2020e0',1),
 marks(blueHat,'triangle-up',6,'#1a1aff','#0a0ac0',0.6),
 glyphs(magentaGlyphs,MAG,12),glyphs(greenGlyphs,'#22e05a',12),
 glyphs(blueGlyphs.filter(r=>r[0]==='O'),BLUE,11.5),glyphs(blueGlyphs.filter(r=>r[0]==='i'),BLUE,11.5),glyphs(blueGlyphs.filter(r=>r[0]!=='O'&&r[0]!=='i'),BLUE,10),
 glyphs(redGlyphs.filter(r=>r[0]==='O'),RED,11.5),glyphs(redGlyphs.filter(r=>r[0]==='i'),RED,11.5),glyphs(redGlyphs.filter(r=>r[0]!=='O'&&r[0]!=='i'),RED,10),
 glyphs(blueXGlyphs,'#2a2ae0',10),glyphs(crimsonGlyphs,'#f02070',9),
 glyphs(aBlue,BLUE,10),glyphs(aCyan,'#10d8e0',10),glyphs(aYellow,'#f0a800',10),
 glyphs(bRed,'#ff3030',10),glyphs(bYellow,'#ffd800',10),glyphs(bCyan,'#20c8f0',10),
 curve(tmaH,tmaV,'#10e8f0',3,null,true),
 segs(magentaLines,MAG,3),segs(blackLines,'#000',3),
 labels(redLabels,RED,11),labels(blueLabels,BLUE,11),labels(blackLabels,'#444',14.5)
];

const zoneFill={t:'rgba(110,215,185,.22)',l:'rgba(110,215,185,.11)',o:'rgba(250,190,120,.22)',p:'rgba(250,160,170,.17)',b:'rgba(130,200,255,.22)'};
const shapes=[];
blueBands.forEach(b=>shapes.push({type:'rect',xref:'x',yref:'paper',x0:b[0],x1:b[1],y0:0,y1:1,fillcolor:'#efeffc',line:{width:0},layer:'below'}));
pinkBands.forEach(b=>shapes.push({type:'rect',xref:'x',yref:'paper',x0:b[0],x1:b[1],y0:0,y1:1,fillcolor:'#fdeeee',line:{width:0},layer:'below'}));
zones.forEach(z=>shapes.push({type:'rect',xref:'x',yref:'y',x0:z[1],x1:z[2],y0:z[3],y1:z[4],fillcolor:zoneFill[z[0]],line:{width:0},layer:'below'}));
const pxRect=(a,b,c,d,fill,lc)=>shapes.push({type:'rect',xref:'paper',yref:'paper',x0:fx(a),x1:fx(b),y0:fy(d),y1:fy(c),fillcolor:fill,line:{width:lc?1:0,color:lc||'#000'},layer:'above'});
pxRect(0.5,1799.5,0.5,971.5,'rgba(0,0,0,0)','#b0b0b0');
pxRect(1,1799,1,20,'#f3f3f3',null);
shapes.push({type:'line',xref:'paper',yref:'paper',x0:fx(0),x1:fx(1800),y0:fy(20.5),y1:fy(20.5),line:{color:'#b8b8b8',width:1},layer:'above'});
shapes.push({type:'line',xref:'paper',yref:'paper',x0:fx(1756.5),x1:fx(1756.5),y0:fy(20),y1:fy(956),line:{color:'#a8a8a8',width:1},layer:'above'});
shapes.push({type:'line',xref:'paper',yref:'paper',x0:fx(0),x1:fx(1756),y0:fy(956.5),y1:fy(956.5),line:{color:'#c0c0c0',width:1},layer:'above'});
[147.5,318.5,490].forEach(y=>shapes.push({type:'line',xref:'paper',yref:'paper',x0:fx(1756),x1:fx(1761),y0:fy(y),y1:fy(y),line:{color:'#9a40c0',width:2},layer:'above'}));
[[1,34],[35,123],[124,182],[183,314]].forEach(b=>pxRect(b[0],b[1],21,34,'#f0f0f0','#a8a8a8'));
pxRect(4,9,23,32,'#35c435',null);pxRect(9,14,23,32,'#e06a60',null);pxRect(39,47,23,32,'#7a00b8',null);pxRect(128,137,23,32,'#00ffff',null);pxRect(187,195,23,32,'#000',null);
pxRect(3,9,11,18,'#e55',null);pxRect(10,15,5,17,'#3c3',null);
const tag=(y,txt,col,bg)=>({xref:'paper',yref:'paper',x:fx(1777),y:fy(y),text:txt,showarrow:false,font:{family:'Liberation Sans',size:11,color:col},bgcolor:bg,bordercolor:'#c8c8c8',borderwidth:1,borderpad:2,xanchor:'center',yanchor:'middle',width:32});
const T=(px,py,text,size,opts)=>Object.assign({xref:'paper',yref:'paper',x:fx(px),y:fy(py),text,showarrow:false,xanchor:'left',yanchor:'middle',font:{family:'Liberation Sans',size,color:'#111'}},opts||{});
const annotations=[
 T(21,11,'<b>Volat Index (EUR1) 1 heure 20,27 (-0,73 % 19 mars 2025, 12:03:20</b>',9.9),
 T(1797,11,'<b>IT-Finance.com</b>',10.5,{xanchor:'right'}),
 T(16,27.5,'Prix',9.8),T(50,27.5,'Bollinger (155 2)',9.8),T(139,27.5,'TMA (20)',9.8),T(198,27.5,'w comptet ST 2025-02-22',9.8),
 T(2,950,'IT-Finance.com',10.5,{font:{family:'Liberation Sans',size:10.5,color:'#222'}}),
 tag(147.5,'23,682','#9a40c0','#f4f4f4'),tag(318.5,'21,566','#9a40c0','#f4f4f4'),tag(411,'20,27','#111','#f2c200'),tag(431,'20,269','#30c0c0','#f4f4f4'),tag(490,'19,450','#9a40c0','#f4f4f4')
];
const layout={width:W,height:H,margin:{l:ML,r:MR,t:MT,b:MB,pad:0},paper_bgcolor:'#fff',plot_bgcolor:'#fff',showlegend:false,dragmode:false,boxgap:0.12,boxgroupgap:0,
 xaxis:{range:[-7.6,381],tickvals:dayTicks,ticktext:dayLabels,showgrid:true,gridcolor:'#e6e6ea',gridwidth:1,zeroline:false,ticks:'',showline:false,rangeslider:{visible:false},tickfont:{family:'Liberation Sans',size:11,color:'#222'},fixedrange:true,ticklen:0},
 yaxis:{range:[13.69,25.247],side:'right',tickvals:priceTicks,ticktext:priceLabels,showgrid:false,zeroline:false,ticks:'outside',ticklen:4,tickcolor:'#888',showline:false,tickfont:{family:'Liberation Sans',size:12,color:'#222'},fixedrange:true},
 shapes,annotations};
Plotly.newPlot('c',traces,layout,{displayModeBar:false,staticPlot:true});
</script></body></html>
